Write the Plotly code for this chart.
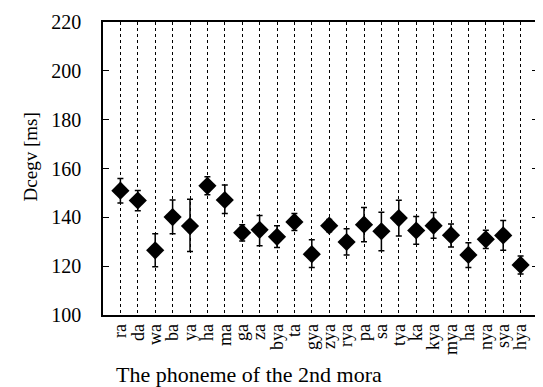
import plotly.graph_objects as go

phonemes = ["ra", "da", "wa", "ba", "ya", "ha", "ma", "ga", "za", "bya", "ta", "gya",
            "zya", "rya", "pa", "sa", "tya", "ka", "kya", "mya", "ha", "nya", "sya", "hya"]
dcegv_ms = [150.9, 146.9, 126.5, 140.1, 136.4, 152.9, 147.1, 133.7, 134.9, 132.0, 138.1, 124.9,
            136.6, 129.9, 137.0, 134.3, 139.7, 134.6, 136.6, 132.7, 124.6, 131.0, 132.6, 120.5]
err_plus = [5.0, 4.1, 6.8, 7.0, 11.0, 3.7, 6.1, 3.3, 5.9, 4.6, 3.5, 5.9,
            2.5, 5.4, 7.0, 7.8, 7.3, 5.7, 5.4, 4.6, 5.0, 3.7, 6.1, 3.7]
err_minus = [5.0, 4.2, 6.7, 6.8, 10.4, 3.7, 5.5, 3.4, 6.5, 4.4, 3.5, 5.4,
             2.5, 5.3, 7.0, 8.0, 7.3, 5.6, 5.2, 4.8, 5.1, 3.8, 6.1, 3.7]
y_ticks = [100, 120, 140, 160, 180, 200, 220]

x_idx = list(range(len(phonemes)))
FONT = "Liberation Serif"

fig = go.Figure()
fig.add_trace(go.Scatter(
    x=x_idx, y=dcegv_ms, mode="markers",
    marker=dict(symbol="diamond", size=14, color="black"),
    error_y=dict(type="data", symmetric=False, array=err_plus, arrayminus=err_minus,
                 color="black", thickness=1.5, width=3),
    showlegend=False,
))

fig.update_layout(
    width=535, height=379,
    margin=dict(l=95, r=3, t=12, b=72),
    paper_bgcolor="white", plot_bgcolor="white",
    font=dict(family=FONT, color="black"),
    xaxis=dict(
        range=[-1, 24], tickvals=x_idx, ticktext=phonemes, tickangle=-90,
        tickfont=dict(size=18, family=FONT),
        showgrid=True, gridcolor="black", griddash="dot", gridwidth=1,
        showline=True, linecolor="black", linewidth=1.5, mirror=True,
        ticks="", zeroline=False,
    ),
    yaxis=dict(
        range=[100, 220], tickvals=y_ticks,
        tickfont=dict(size=20, family=FONT),
        showgrid=False, zeroline=False,
        showline=True, linecolor="black", linewidth=1.5, mirror="ticks",
        ticks="inside", ticklen=6, tickcolor="black", tickwidth=1,
        ticklabelstandoff=16,
    ),
    annotations=[
        dict(text="Dcegv [ms]", xref="paper", yref="paper", x=-0.167, y=0.539,
             xanchor="center", yanchor="middle", textangle=-90, showarrow=False,
             font=dict(size=19, family=FONT)),
        dict(text="The phoneme of the 2nd mora", xref="paper", yref="paper",
             x=0.336, y=-0.202, xanchor="center", yanchor="middle", showarrow=False,
             font=dict(size=22, family=FONT)),
    ],
)

fig.write_html("out.html")
